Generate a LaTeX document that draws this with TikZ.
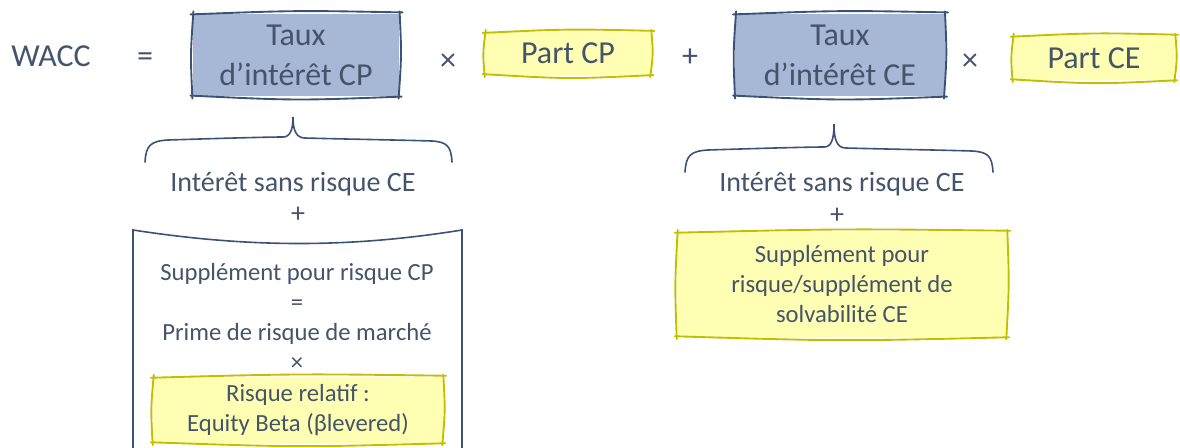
\documentclass[tikz,border=0pt]{standalone}
\usepackage{fontspec}
\setmainfont{Carlito}
\usetikzlibrary{calc,positioning}

\definecolor{txtblue}{HTML}{44546A}
\definecolor{boxblue}{HTML}{A7B7D6}
\definecolor{lineblue}{HTML}{3B5277}
\definecolor{boxyellow}{HTML}{FFFFB4}
\definecolor{lineyellow}{HTML}{C2BE00}

\tikzset{
  every node/.style={text=txtblue},
  bigtext/.style={font=\fontsize{24}{30}\selectfont},
  midtext/.style={font=\fontsize{21}{27}\selectfont},
  smalltext/.style={font=\fontsize{18.5}{22.5}\selectfont},
  bluebox/.style={fill=boxblue, bigtext, align=center, inner sep=0pt},
  yellowbox/.style={fill=boxyellow, align=center, inner sep=0pt},
  blueline/.style={draw=lineblue, line width=1.4pt, line cap=round},
  yellowline/.style={draw=lineyellow, line width=1.4pt, line cap=round},
  bracket/.style={draw=lineblue, line width=1.2pt, line cap=round},
}

% sketchy outline round a node
\newcommand{\sketchframe}[2]{%
  \draw[#1] ($(#2.north west)+(-2,1)$) .. controls ($(#2.north)+(0,-3)$) .. ($(#2.north east)+(3,-1)$);
  \draw[#1] ($(#2.north east)+(0,-2)$) .. controls ($(#2.east)+(2,0)$) .. ($(#2.south east)+(-1,2)$);
  \draw[#1] ($(#2.south east)+(2,0)$) .. controls ($(#2.south)+(0,4)$) .. ($(#2.south west)+(-2,-1)$);
  \draw[#1] ($(#2.south west)+(0,2)$) .. controls ($(#2.west)+(-2,0)$) .. ($(#2.north west)+(1,-2)$);
}

\begin{document}
\begin{tikzpicture}[x=0.75pt,y=-0.75pt]
    \clip (0,0) rectangle (1180,447);
    % Formula
    \node[bigtext] (wacc) at (51,56) {WACC};
    \node[bigtext] (eq) at (145,60) {=};
    \node[bluebox, minimum width=155pt, minimum height=62pt] (tauxcp) at (296,55) {Taux\\d’intérêt CP};
    \sketchframe{blueline}{tauxcp}
    \node[bigtext] (times1) at (448,62) {×};
    \node[yellowbox, bigtext, minimum width=124.5pt, minimum height=32pt] (partcp) at (568,53.5) {Part CP};
    \sketchframe{yellowline}{partcp}
    \node[bigtext] (plus) at (690,58) {+};
    \node[bluebox, minimum width=157pt, minimum height=62pt] (tauxce) at (840,55) {Taux\\d’intérêt CE};
    \sketchframe{blueline}{tauxce}
    \node[bigtext] (times2) at (970,62) {×};
    \node[yellowbox, bigtext, minimum width=121.5pt, minimum height=33pt] (partce) at (1094,58) {Part CE};
    \sketchframe{yellowline}{partce}
    % Left brace
    \draw[bracket] (145,162) .. controls (146,146) and (150,141) .. (168,140)
      .. controls (230,138) and (270,137) .. (283,137)
      .. controls (290,137) and (293,130) .. (293,117)
      .. controls (293,130) and (296,138) .. (305,138)
      .. controls (340,139) and (400,140) .. (432,141)
      .. controls (447,142) and (451,146) .. (452,162);
    \node[midtext] (sanscp) at (293,184) {Intérêt sans risque CE};
    \node[midtext] (pluscp) at (298,215) {+};
    % Left box
    \draw[blueline, line width=1.2pt] (133,460) -- (133,230)
      .. controls (250,248) and (350,248) .. (462,230) -- (462,460);
    \node[smalltext, align=center] (suppcp) at (297,317) {Supplément pour risque CP\\=\\Prime de risque de marché\\×};
    \node[yellowbox, smalltext, minimum width=217.5pt, minimum height=49.5pt] (beta) at (298,410) {Risque relatif :\\Equity Beta (βlevered)};
    \sketchframe{yellowline}{beta}
    % Right brace
    \draw[bracket] (685,172) .. controls (686,156) and (690,151) .. (708,150)
      .. controls (770,148) and (812,147) .. (824,147)
      .. controls (831,147) and (834,140) .. (834,124)
      .. controls (834,140) and (837,148) .. (846,148)
      .. controls (880,149) and (940,150) .. (972,151)
      .. controls (988,152) and (992,156) .. (993,172);
    \node[midtext] (sansce) at (842,184) {Intérêt sans risque CE};
    \node[midtext] (plusce) at (837,216) {+};
    % Right box
    \node[yellowbox, smalltext, minimum width=247.5pt, minimum height=78.75pt] (suppce) at (842,284.5) {Supplément pour\\risque/supplément de\\solvabilité CE};
    \sketchframe{yellowline}{suppce}
\end{tikzpicture}
\end{document}
